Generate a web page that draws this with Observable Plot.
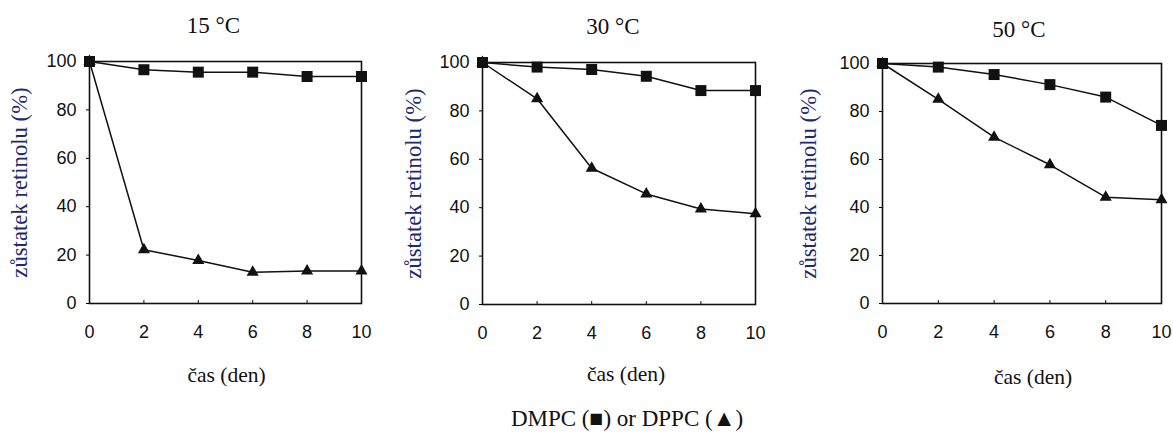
<!DOCTYPE html>
<html>
<head>
<meta charset="utf-8">
<script src="https://cdn.jsdelivr.net/npm/d3@7"></script>
<script src="https://cdn.jsdelivr.net/npm/@observablehq/plot@0.6"></script>
<style>
  body { margin: 0; background: #fff; }
  #chart { position: relative; width: 1173px; height: 434px; overflow: hidden; background: #fff; }
  .panel { position: absolute; top: 0; }
  #legend { position: absolute; left: 427px; width: 400px; top: 406px; height: 26px; line-height: 26px; text-align: center;
            font-family: "Liberation Serif", "Times New Roman", serif; font-size: 23px; color: #111; white-space: nowrap; }
</style>
</head>
<body>
<div id="chart"></div>
<script>
// ---- data ----
const days = [0, 2, 4, 6, 8, 10];
const titles = ["15 °C", "30 °C", "50 °C"];
const dmpc15 = [100, 96.6, 95.6, 95.6, 93.8, 93.8];
const dppc15 = [100, 22.2, 17.8, 12.9, 13.4, 13.4];
const dmpc30 = [100, 98.1, 97.1, 94.3, 88.4, 88.4];
const dppc30 = [100, 85.0, 56.3, 45.7, 39.5, 37.5];
const dmpc50 = [100, 98.5, 95.4, 91.2, 86.0, 74.2];
const dppc50 = [100, 85.1, 69.3, 57.8, 44.3, 43.2];
const xTicks = [0, 2, 4, 6, 8, 10];
const yTicks = [0, 20, 40, 60, 80, 100];
const xLabel = "čas (den)";
const yLabel = "zůstatek retinolu (%)";
const legendText = "DMPC (■) or DPPC (▲)";

const seriesByPanel = [[dmpc15, dppc15], [dmpc30, dppc30], [dmpc50, dppc50]];

// ---- layout ----
const H = 400;
const layout = [
  {left: 0,   width: 400, mL: 89, mR: 39, mT: 61, mB: 97, tDx: -12, tDy: -36, xDx: 1,  xDy: 72, yDx: -70},
  {left: 400, width: 390, mL: 82, mR: 35, mT: 62, mB: 96, tDx: -6,  tDy: -36, xDx: 7,  xDy: 70, yDx: -69},
  {left: 790, width: 383, mL: 92, mR: 12, mT: 63, mB: 97, tDx: -3,  tDy: -34, xDx: 11, xDy: 74, yDx: -74}
];

const chart = document.getElementById("chart");
const sans = "'Liberation Sans', Arial, sans-serif";
const serif = "'Liberation Serif', 'Times New Roman', serif";

seriesByPanel.forEach(([dm, dp], p) => {
  const L = layout[p];
  const dmData = days.map((d, i) => ({day: d, v: dm[i], k: "DMPC"}));
  const dpData = days.map((d, i) => ({day: d, v: dp[i], k: "DPPC"}));
  const frameH = H - L.mT - L.mB;
  const svg = Plot.plot({
    width: L.width,
    height: H,
    marginLeft: L.mL, marginRight: L.mR, marginTop: L.mT, marginBottom: L.mB,
    style: {background: "transparent", overflow: "visible"},
    x: {domain: [0, 10]},
    y: {domain: [0, 100]},
    marks: [
      Plot.axisY(yTicks, {tickSize: 3, tickPadding: 10, fontSize: 18, fontFamily: sans, fill: "#111", label: null}),
      Plot.axisX(xTicks, {tickSize: 0, tickPadding: 22, fontSize: 18, fontFamily: sans, fill: "#111", label: null}),
      Plot.tickX(xTicks.slice(1, -1), {x: d => d, insetTop: frameH - 3, stroke: "#111"}),
      Plot.frame({stroke: "#111", strokeWidth: 1.6}),
      Plot.line(dmData, {x: "day", y: "v", stroke: "#111", strokeWidth: 1.5}),
      Plot.line(dpData, {x: "day", y: "v", stroke: "#111", strokeWidth: 1.5}),
      Plot.dot(dmData, {x: "day", y: "v", symbol: "square", r: 6.2, fill: "#111", stroke: null}),
      Plot.dot(dpData, {x: "day", y: "v", symbol: "triangle", r: 4.5, fill: "#111", stroke: null}),
      Plot.text([titles[p]], {text: d => d, frameAnchor: "top", textAnchor: "middle", lineAnchor: "middle",
        dx: L.tDx, dy: L.tDy, fontSize: 23, fontFamily: serif, fill: "#111"}),
      Plot.text([xLabel], {text: d => d, frameAnchor: "bottom", textAnchor: "middle", lineAnchor: "middle",
        dx: L.xDx, dy: L.xDy, fontSize: 21.5, fontFamily: serif, fill: "#111"}),
      Plot.text([yLabel], {text: d => d, frameAnchor: "left", textAnchor: "middle", lineAnchor: "middle",
        rotate: -90, dx: L.yDx, fontSize: 22.7, fontFamily: serif, fill: "#1d2a6e"})
    ]
  });
  svg.classList.add("panel");
  svg.style.left = L.left + "px";
  chart.appendChild(svg);
});

const leg = document.createElement("div");
leg.id = "legend";
leg.textContent = legendText;
chart.appendChild(leg);
</script>
</body>
</html>
